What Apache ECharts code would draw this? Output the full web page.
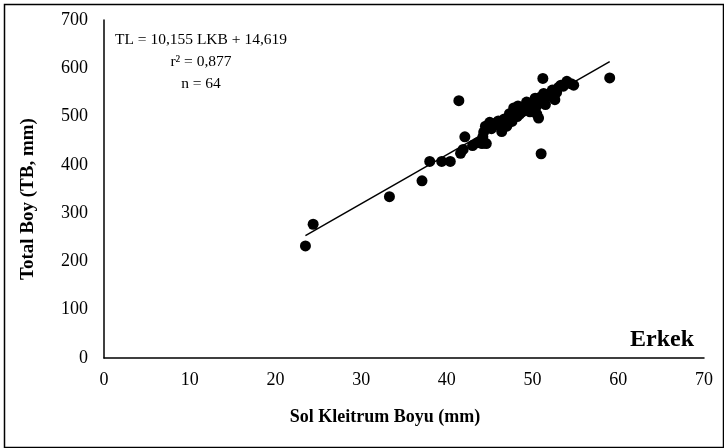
<!DOCTYPE html>
<html><head><meta charset="utf-8">
<script src="https://cdn.jsdelivr.net/npm/echarts@6/dist/echarts.min.js"></script>
<style>html,body{margin:0;padding:0;background:#fff}#c{width:724px;height:448px}</style>
</head><body><div id="c"></div>
<script>
const lkb = [23.5,24.4,33.3,37.1,38.0,39.4,40.4,41.4,41.6,41.9,42.1,43.6,44.1,44.6,44.2,44.3,44.5,45.0,45.4,46.0,46.4,46.7,47.0,47.3,47.5,47.8,48.0,48.3,48.5,48.8,49.0,49.3,49.5,49.8,50.0,50.2,50.4,50.5,50.7,50.9,51.0,51.1,51.2,51.3,51.5,51.7,52.0,52.3,52.6,52.8,53.0,53.3,53.6,54.0,54.5,54.8,59.0,45.2,43.0,46.2,47.6,48.2,49.7,50.3];
const tb  = [232,277,334,367,407,407,407,533,424,432,458,446,444,444,458,468,480,488,485,491,469,495,480,506,498,518,512,522,505,510,520,530,515,525,530,512,520,505,497,540,423,530,579,548,525,545,543,555,535,550,560,565,563,573,568,565,580,475,440,480,490,500,510,538];
const slope = 10.155, intercept = 14.619;
const eqLines = ['TL = 10,155 LKB + 14,619', 'r\u00b2 = 0,877', 'n = 64'];
const groupLabel = 'Erkek';
const xName = 'Sol Kleitrum Boyu (mm)', yName = 'Total Boy (TB, mm)';

const pts = lkb.map((x,i)=>[x,tb[i]]);
const xmin = Math.min(...lkb), xmax = Math.max(...lkb);
const trend = [[xmin, slope*xmin+intercept],[xmax, slope*xmax+intercept]];
const F = '"Liberation Serif","Times New Roman",serif';
const chart = echarts.init(document.getElementById('c'));
chart.setOption({
  animation:false,
  grid:{left:104,right:20,top:20,bottom:90},
  xAxis:{type:'value',min:0,max:70,interval:10,
    axisLine:{show:true,lineStyle:{color:'#000',width:1.5}},axisTick:{show:false},splitLine:{show:false},
    axisLabel:{color:'#000',fontFamily:F,fontSize:18,margin:13}},
  yAxis:{type:'value',min:0,max:700,interval:100,
    axisLine:{show:true,lineStyle:{color:'#000',width:1.5}},axisTick:{show:false},splitLine:{show:false},
    axisLabel:{color:'#000',fontFamily:F,fontSize:18,margin:16}},
  series:[
    {type:'line',data:trend,symbol:'none',lineStyle:{color:'#000',width:1.5},z:1},
    {type:'scatter',data:pts,symbolSize:11,itemStyle:{color:'#000',opacity:1},z:2}
  ],
  graphic:[
    {type:'rect',left:2,top:2,shape:{width:719,height:443},style:{fill:null,stroke:'#000',lineWidth:1.5},silent:true},
    {type:'text',x:201,y:40,style:{text:eqLines[0],font:'15.5px '+F,fill:'#000',textAlign:'center',textVerticalAlign:'middle'}},
    {type:'text',x:201,y:62,style:{text:eqLines[1],font:'15.5px '+F,fill:'#000',textAlign:'center',textVerticalAlign:'middle'}},
    {type:'text',x:201,y:84,style:{text:eqLines[2],font:'15.5px '+F,fill:'#000',textAlign:'center',textVerticalAlign:'middle'}},
    {type:'text',x:662,y:340,style:{text:groupLabel,font:'bold 24px '+F,fill:'#000',textAlign:'center',textVerticalAlign:'middle'}},
    {type:'text',x:385,y:417,style:{text:xName,font:'bold 18px '+F,fill:'#000',textAlign:'center',textVerticalAlign:'middle'}},
    {type:'text',x:28,y:199,rotation:Math.PI/2,style:{text:yName,font:'bold 19px '+F,fill:'#000',textAlign:'center',textVerticalAlign:'middle'}}
  ]
});
</script></body></html>
